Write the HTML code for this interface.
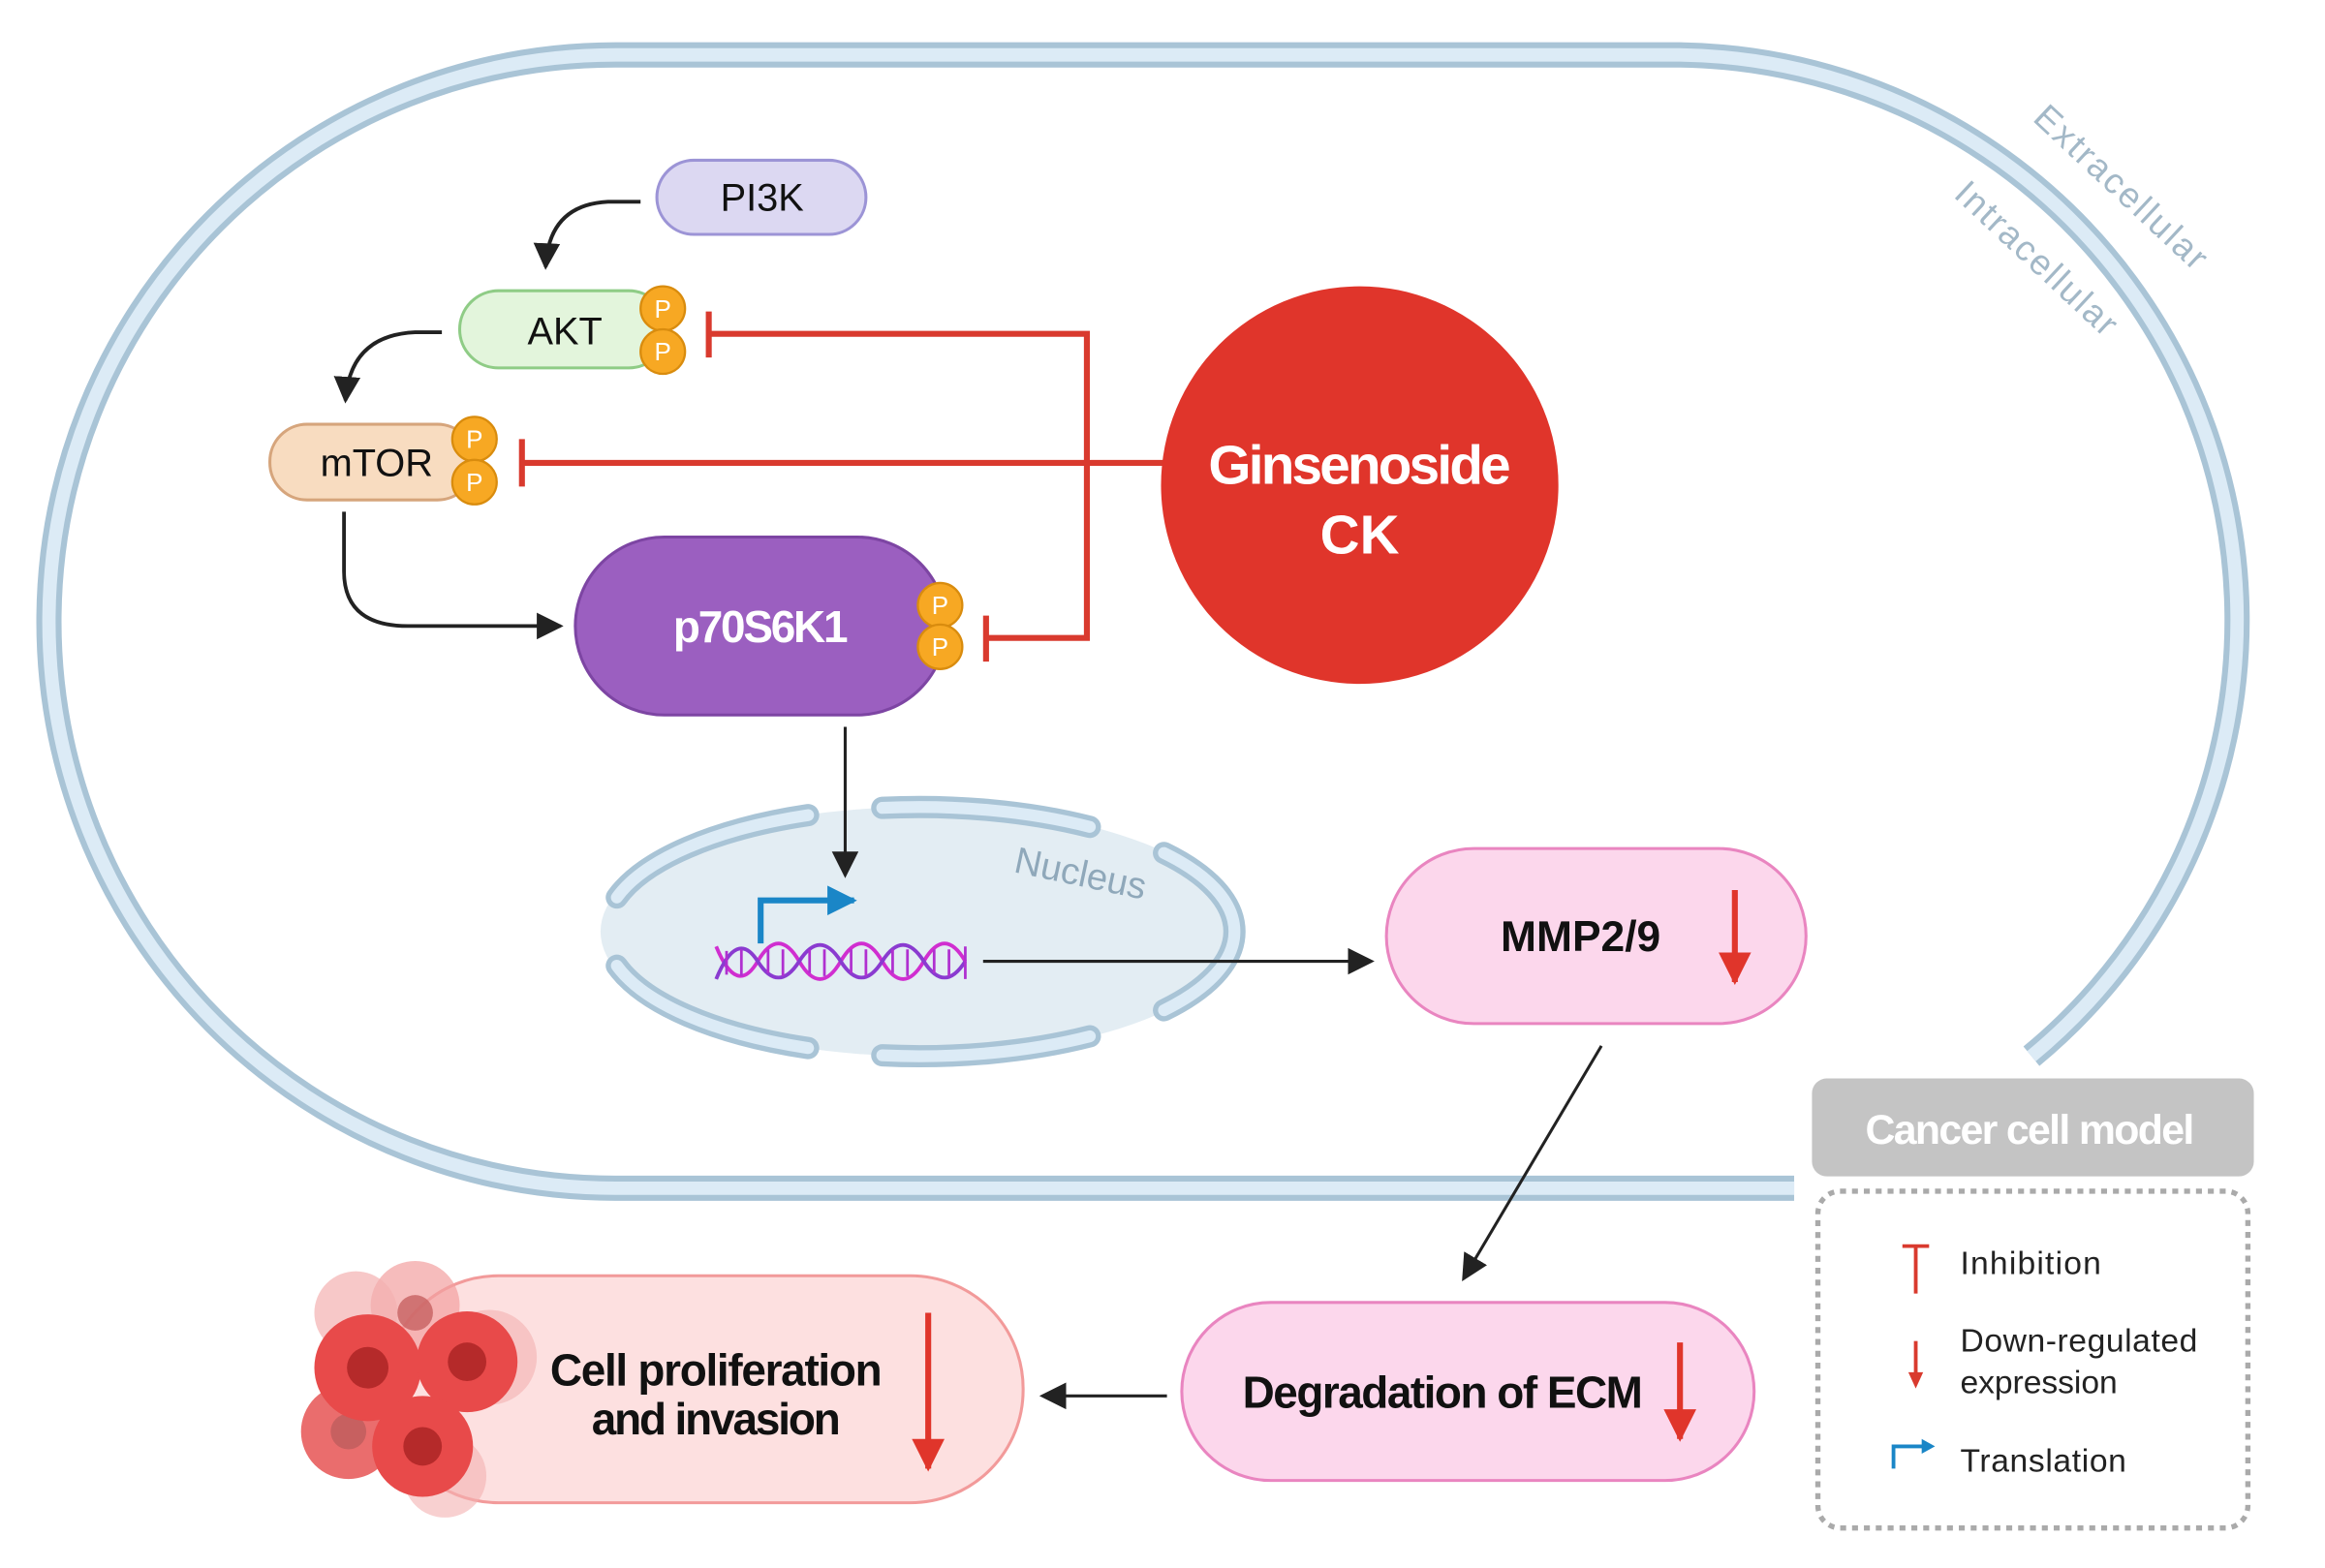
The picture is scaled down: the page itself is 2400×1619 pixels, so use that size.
<!DOCTYPE html>
<html><head><meta charset="utf-8"><style>
html,body{margin:0;padding:0;background:#fff;}
svg{display:block;}
text{font-family:"Liberation Sans",sans-serif;}
</style></head><body>
<svg width="2400" height="1619" viewBox="0 0 1568 1057" preserveAspectRatio="none" xmlns="http://www.w3.org/2000/svg">
<defs>
<marker id="ab2" markerWidth="18" markerHeight="18" refX="16" refY="9" orient="auto" markerUnits="userSpaceOnUse"><path d="M0,0 L18,9 L0,18 z" fill="#222"/></marker>
<marker id="ar" markerWidth="22" markerHeight="22" refX="20" refY="11" orient="auto" markerUnits="userSpaceOnUse"><path d="M0,0 L22,11 L0,22 z" fill="#e0352b"/></marker>
<marker id="abl" markerWidth="20" markerHeight="20" refX="18" refY="10" orient="auto" markerUnits="userSpaceOnUse"><path d="M0,0 L20,10 L0,20 z" fill="#1a86c7"/></marker>
</defs>
<g fill="none">
<path d="M1210,801 L415,801 A382,382 0 0 1 415,37 L1133,37 A381,381 0 0 1 1370,712" stroke="#a9c4d6" stroke-width="17"/>
<path d="M1210,801 L415,801 A382,382 0 0 1 415,37 L1133,37 A381,381 0 0 1 1370,712" stroke="#dcebf6" stroke-width="9"/>
</g>
<text x="1425" y="132" transform="rotate(43 1425 132)" font-size="24" fill="#a3b8c7" text-anchor="middle" textLength="150">Extracellular</text>
<text x="1368" y="180" transform="rotate(43 1368 180)" font-size="24" fill="#a3b8c7" text-anchor="middle" textLength="140">Intracellular</text>

<g stroke="#d93a2e" stroke-width="4" fill="none">
<path d="M785,312 L352,312"/><path d="M352,296 L352,328"/>
<path d="M478,225 L733,225 L733,430 L665,430"/>
<path d="M478,210 L478,241"/><path d="M665,415 L665,446"/>
</g>
<circle cx="917" cy="327" r="134" fill="#e0352b"/>
<text x="917" y="326" font-size="37" font-weight="bold" fill="#fff" text-anchor="middle" textLength="204">Ginsenoside</text>
<text x="917" y="373" font-size="37" font-weight="bold" fill="#fff" text-anchor="middle">CK</text>

<rect x="443" y="108" width="141" height="50" rx="25" fill="#dcd8f2" stroke="#9c94d6" stroke-width="2"/>
<text x="514" y="142" font-size="26" fill="#111" text-anchor="middle">PI3K</text>
<path d="M432,136 L410,136 Q370,138 368,180" fill="none" stroke="#222" stroke-width="2.5" marker-end="url(#ab2)"/>
<rect x="310" y="196" width="140" height="52" rx="26" fill="#e3f5dc" stroke="#8fcc86" stroke-width="2"/>
<text x="381" y="232" font-size="26" fill="#111" text-anchor="middle">AKT</text>
<path d="M298,224 L280,224 Q236,226 233,270" fill="none" stroke="#222" stroke-width="2.5" marker-end="url(#ab2)"/>
<rect x="182" y="286" width="138" height="51" rx="25" fill="#f8dcc0" stroke="#d6a57c" stroke-width="2"/>
<text x="254" y="321" font-size="26" fill="#111" text-anchor="middle">mTOR</text>
<path d="M232,345 L232,385 Q232,422 275,422 L378,422" fill="none" stroke="#222" stroke-width="2.5" marker-end="url(#ab2)"/>
<rect x="388" y="362" width="250" height="120" rx="60" fill="#9b5fc0" stroke="#7d45a3" stroke-width="2"/>
<text x="513" y="433" font-size="30" font-weight="bold" fill="#fff" text-anchor="middle" textLength="118">p70S6K1</text>

<g font-size="17" fill="#fff" text-anchor="middle">
<circle cx="447" cy="208" r="15" fill="#f7a823" stroke="#d98c0e" stroke-width="1.5"/><text x="447" y="214">P</text>
<circle cx="447" cy="237" r="15" fill="#f7a823" stroke="#d98c0e" stroke-width="1.5"/><text x="447" y="243">P</text>
<circle cx="320" cy="296" r="15" fill="#f7a823" stroke="#d98c0e" stroke-width="1.5"/><text x="320" y="302">P</text>
<circle cx="320" cy="325" r="15" fill="#f7a823" stroke="#d98c0e" stroke-width="1.5"/><text x="320" y="331">P</text>
<circle cx="634" cy="408" r="15" fill="#f7a823" stroke="#d98c0e" stroke-width="1.5"/><text x="634" y="414">P</text>
<circle cx="634" cy="436" r="15" fill="#f7a823" stroke="#d98c0e" stroke-width="1.5"/><text x="634" y="442">P</text>
</g>

<ellipse cx="620" cy="628" rx="215" ry="84" fill="#e3edf3"/>
<g fill="none" stroke-linecap="round">
<g stroke="#a9c4d6" stroke-width="15">
<path d="M416,605 A212,84 0 0 1 545,549.5"/><path d="M595,544.6 A212,84 0 0 1 735,557.4"/>
<path d="M785,575 A212,84 0 0 1 785,681"/><path d="M735,698.6 A212,84 0 0 1 595,711.4"/>
<path d="M545,706.5 A212,84 0 0 1 416,651"/>
</g>
<g stroke="#dcebf6" stroke-width="8">
<path d="M416,605 A212,84 0 0 1 545,549.5"/><path d="M595,544.6 A212,84 0 0 1 735,557.4"/>
<path d="M785,575 A212,84 0 0 1 785,681"/><path d="M735,698.6 A212,84 0 0 1 595,711.4"/>
<path d="M545,706.5 A212,84 0 0 1 416,651"/>
</g>
</g>
<text x="727" y="597" transform="rotate(12 727 597)" font-size="25" fill="#8fa8ba" text-anchor="middle" textLength="90">Nucleus</text>
<path d="M570,490 L570,590" stroke="#222" stroke-width="2" marker-end="url(#ab2)"/>
<path d="M513,636 L513,607 L576,607" fill="none" stroke="#1a86c7" stroke-width="4" marker-end="url(#abl)"/>
<g fill="none" stroke-width="2.5">
<path d="M483,638 Q497,672 511,648 T539,648 T567,648 T595,648 T623,648 T651,648" stroke="#d02ed0"/>
<path d="M483,660 Q497,626 511,648 T539,648 T567,648 T595,648 T623,648 T651,648" stroke="#8a3bd0"/>
<path d="M490,641 V657 M500,640 V658 M518,640 V656 M528,640 V658 M546,640 V656 M556,640 V658 M574,640 V656 M584,640 V658 M602,640 V656 M612,640 V658 M630,640 V656 M640,640 V658 M651,638 V660" stroke="#b030d0" stroke-width="1.8"/>
</g>
<path d="M663,648 L925,648" stroke="#222" stroke-width="2" marker-end="url(#ab2)"/>

<rect x="935" y="572" width="283" height="118" rx="59" fill="#fcd7ec" stroke="#e985c0" stroke-width="2"/>
<text x="1066" y="641" font-size="29" font-weight="bold" fill="#111" text-anchor="middle">MMP2/9</text>
<path d="M1170,600 L1170,662" stroke="#e0352b" stroke-width="4" marker-end="url(#ar)"/>
<path d="M1080,705 L987,862" stroke="#222" stroke-width="2" marker-end="url(#ab2)"/>

<rect x="797" y="878" width="386" height="120" rx="60" fill="#fcd7ec" stroke="#e985c0" stroke-width="2"/>
<text x="973" y="949" font-size="30" font-weight="bold" fill="#111" text-anchor="middle" textLength="270">Degradation of ECM</text>
<path d="M1133,905 L1133,970" stroke="#e0352b" stroke-width="4" marker-end="url(#ar)"/>
<path d="M787,941 L703,941" stroke="#222" stroke-width="2" marker-end="url(#ab2)"/>

<rect x="260" y="860" width="430" height="153" rx="76" fill="#fde0e0" stroke="#f29a9a" stroke-width="2"/>
<text x="483" y="934" font-size="30" font-weight="bold" fill="#111" text-anchor="middle" textLength="224">Cell proliferation</text>
<text x="483" y="967" font-size="30" font-weight="bold" fill="#111" text-anchor="middle" textLength="168">and invasion</text>
<path d="M626,885 L626,990" stroke="#e0352b" stroke-width="4" marker-end="url(#ar)"/>
<g>
<circle cx="280" cy="880" r="30" fill="#f2a0a0" opacity="0.7"/>
<circle cx="240" cy="885" r="28" fill="#f4b0b0" opacity="0.7"/>
<circle cx="330" cy="915" r="32" fill="#f4b0b0" opacity="0.6"/>
<circle cx="300" cy="995" r="28" fill="#f4b0b0" opacity="0.6"/>
<circle cx="235" cy="965" r="32" fill="#ea6d6d"/>
<circle cx="235" cy="965" r="12" fill="#c76060"/>
<circle cx="248" cy="922" r="36" fill="#e84a4a"/>
<circle cx="248" cy="922" r="14" fill="#b52a2a"/>
<circle cx="315" cy="918" r="34" fill="#e84a4a"/>
<circle cx="315" cy="918" r="13" fill="#b52a2a"/>
<circle cx="285" cy="975" r="34" fill="#e84a4a"/>
<circle cx="285" cy="975" r="13" fill="#b52a2a"/>
<circle cx="280" cy="885" r="12" fill="#c76060" opacity="0.8"/>
</g>

<rect x="1222" y="727" width="298" height="66" rx="10" fill="#c4c4c4"/>
<text x="1369" y="771" font-size="28" font-weight="bold" fill="#fff" text-anchor="middle" textLength="222">Cancer cell model</text>
<rect x="1226" y="803" width="290" height="227" rx="15" fill="none" stroke="#aaa" stroke-width="3.5" stroke-dasharray="4 4"/>
<path d="M1292,840 L1292,872 M1283,840 L1301,840" stroke="#d93a2e" stroke-width="2.5"/>
<text x="1322" y="859" font-size="22" fill="#222" textLength="95">Inhibition</text>
<path d="M1292,904 L1292,928" stroke="#d93a2e" stroke-width="2.5"/>
<path d="M1287,925 L1292,936 L1297,925 z" fill="#d93a2e"/>
<text x="1322" y="911" font-size="22" fill="#222" textLength="160">Down-regulated</text>
<text x="1322" y="939" font-size="22" fill="#222" textLength="106">expression</text>
<path d="M1277,990 L1277,975 L1298,975" fill="none" stroke="#1a86c7" stroke-width="2.5"/>
<path d="M1296,970 L1305,975 L1296,980 z" fill="#1a86c7"/>
<text x="1322" y="992" font-size="22" fill="#222" textLength="112">Translation</text>
</svg>
</body></html>
